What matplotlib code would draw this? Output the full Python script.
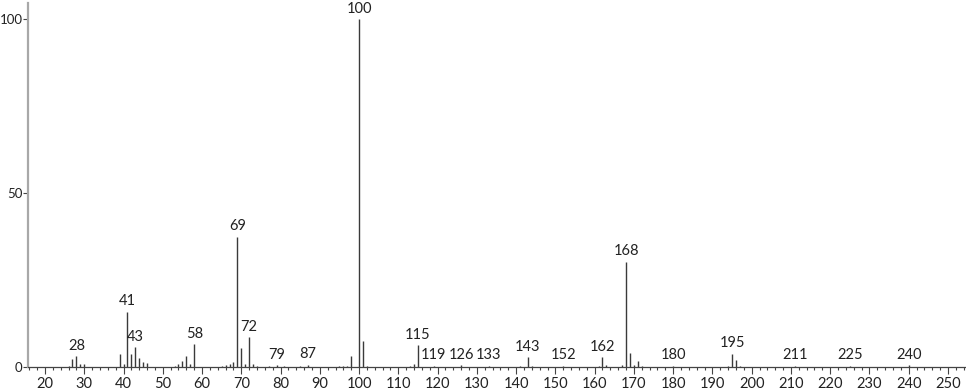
import matplotlib
matplotlib.use("Agg")
import matplotlib.pyplot as plt
from matplotlib.ticker import MultipleLocator

# peak list (m/z, relative intensity %)
mz = [26, 27, 28, 29, 30, 39, 40, 41, 42, 43, 44, 45, 46, 53, 54, 55, 56, 57, 58,
      65, 66, 67, 68, 69, 70, 71, 72, 73, 74, 77, 79, 81, 85, 87, 95, 96, 97, 98,
      100, 101, 102, 113, 114, 115, 119, 126, 133, 141, 143, 144, 152, 161, 162,
      163, 167, 168, 169, 170, 171, 172, 180, 194, 195, 196, 197, 211, 225, 240]
intensity = [0.4, 2.3, 3.1, 1.0, 0.8, 3.8, 0.8, 15.9, 3.8, 5.7, 2.7, 1.3, 1.1, 0.4, 0.8, 1.7, 3.1, 1.0, 6.6,
             0.4, 0.5, 1.0, 1.3, 37.4, 5.6, 0.9, 8.5, 1.0, 0.4, 0.4, 0.5, 0.3, 0.3, 0.7, 0.3, 0.4, 0.4, 3.2,
             100, 7.6, 0.4, 0.3, 1.0, 6.3, 0.4, 0.5, 0.3, 0.3, 2.8, 0.4, 0.3, 0.4, 2.8,
             0.5, 0.5, 30.3, 3.9, 0.5, 1.6, 0.4, 0.4, 0.4, 3.8, 2.0, 0.4, 0.3, 0.3, 0.5]

labelled = [28, 41, 43, 58, 69, 72, 79, 87, 100, 115, 119, 126, 133, 143, 152,
            162, 168, 180, 195, 211, 225, 240]

x_ticks = list(range(20, 251, 10))
y_ticks = [0, 50, 100]

plt.rcParams['font.family'] = ['Lato', 'DejaVu Sans']

fig = plt.figure(figsize=(9.66, 3.89), dpi=100)
ax = fig.add_axes([0.029, 0.0566, 0.971, 0.935])

ax.vlines(mz, 0, intensity, colors='#3a3a3a', linewidth=1.0)

peaks = dict(zip(mz, intensity))
for m in labelled:
    ax.annotate(str(m), (m, peaks[m]), xytext=(0, 2.5), textcoords='offset points',
                ha='center', va='bottom', fontsize=10.5, color='#222222')

ax.set_xlim(15.67, 254.6)
ax.set_ylim(0, 104.6)

ax.set_xticks(x_ticks)
ax.xaxis.set_minor_locator(MultipleLocator(2))
ax.set_yticks(y_ticks)

ax.tick_params(axis='x', which='major', length=5, width=0.8, color='#444444',
               labelsize=10.5, labelcolor='#222222', pad=2)
ax.tick_params(axis='x', which='minor', length=2.5, width=0.8, color='#444444')
ax.tick_params(axis='y', which='major', length=3.5, width=0.8, color='#444444',
               labelsize=9.5, labelcolor='#222222', pad=0.5)

for side in ['top', 'right']:
    ax.spines[side].set_visible(False)
ax.spines['bottom'].set_color('#444444')
ax.spines['bottom'].set_linewidth(0.9)
ax.spines['left'].set_color('#a8a8a8')
ax.spines['left'].set_linewidth(1.6)

fig.savefig('out.png', dpi=100)
